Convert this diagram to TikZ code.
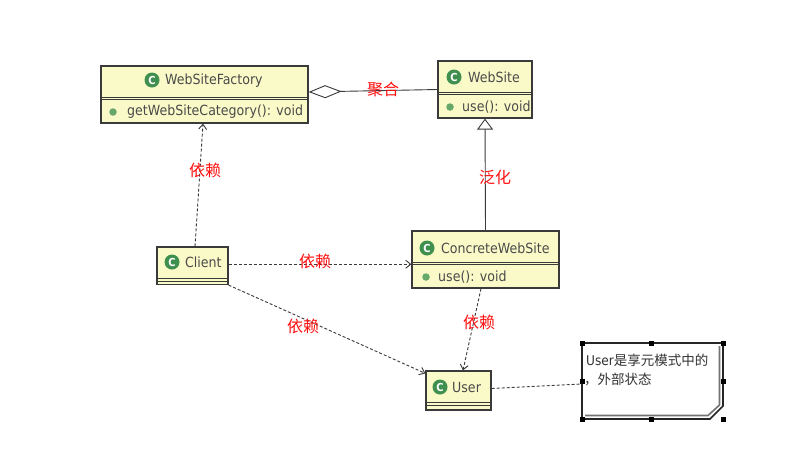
\documentclass[tikz,border=0pt]{standalone}
\usepackage{fontspec}
\setmainfont{DejaVu Sans Condensed}
\newfontfamily\cjk{Noto Sans CJK SC}
\usetikzlibrary{arrows.meta}

\definecolor{boxfill}{HTML}{FAFAC8}
\definecolor{boxline}{HTML}{3A3A3A}
\definecolor{nametext}{HTML}{4A4A4A}
\definecolor{icongreen}{HTML}{3F8F4F}
\definecolor{dotgreen}{HTML}{66A86A}
\definecolor{labelred}{HTML}{FF1010}

\tikzset{
  classbox/.style={draw=boxline, fill=boxfill, line width=1.2pt, inner sep=0pt, rectangle},
  divider/.style={draw=boxline, line width=0.9pt},
  cicon/.style={circle, fill=icongreen, minimum size=15pt, inner sep=0pt, text=white,
    font=\fontsize{11}{11}\selectfont\bfseries},
  mdot/.style={circle, fill=dotgreen, minimum size=7.5pt, inner sep=0pt},
  cname/.style={anchor=west, inner sep=0pt, text=nametext, font=\fontsize{14}{16}\selectfont},
  rel/.style={draw=boxline, line width=0.9pt},
  dep/.style={rel, dash pattern=on 3pt off 2pt, -{Straight Barb[length=5pt,width=8pt]}},
  redlabel/.style={text=labelred, inner sep=0pt, font=\cjk\fontsize{16}{16}\selectfont},
  handle/.style={fill=black, minimum size=5pt, inner sep=0pt, rectangle},
  notetext/.style={anchor=west, inner sep=0pt, text=black!80, font=\fontsize{13.5}{15}\selectfont},
}

\begin{document}
\begin{tikzpicture}[x=1pt,y=-1pt]
\useasboundingbox[fill=white] (0,0) rectangle (806,456);

% ---- WebSiteFactory
\node[classbox, minimum width=207pt, minimum height=57pt] (factory) at (204.5,94.5) {};
\draw[divider] (101,97) -- (308,97);
\draw[divider] (101,99.5) -- (308,99.5);
\node[cicon] (factoryicon) at (152,80) {C};
\node[cname] (factoryname) at (165,81) {WebSiteFactory};
\node[mdot] (factorydot) at (113,112) {};
\node[cname] (factoryop) at (127,112) {getWebSiteCategory(): void};

% ---- WebSite
\node[classbox, minimum width=94pt, minimum height=57pt] (website) at (485,89.5) {};
\draw[divider] (438,92) -- (532,92);
\draw[divider] (438,94.5) -- (532,94.5);
\node[cicon] (websiteicon) at (454,77) {C};
\node[cname] (websitename) at (468,77) {WebSite};
\node[mdot] (websitedot) at (450,107) {};
\node[cname] (websiteop) at (462,107) {use(): void};

% ---- ConcreteWebSite
\node[classbox, minimum width=147pt, minimum height=57pt] (concrete) at (485.5,259.5) {};
\draw[divider] (412,262) -- (559,262);
\draw[divider] (412,264.5) -- (559,264.5);
\node[cicon] (concreteicon) at (427,248) {C};
\node[cname] (concretename) at (441,248) {ConcreteWebSite};
\node[mdot] (concretedot) at (426,277) {};
\node[cname] (concreteop) at (438,277) {use(): void};

% ---- Client
\node[classbox, minimum width=71pt, minimum height=37.5pt] (client) at (192.5,265.75) {};
\draw[divider] (157,278) -- (228,278);
\draw[divider] (157,281) -- (228,281);
\node[cicon] (clienticon) at (172,262) {C};
\node[cname] (clientname) at (185,262) {Client};

% ---- User
\node[classbox, minimum width=65pt, minimum height=39pt] (user) at (458.5,390.5) {};
\draw[divider] (426,402.5) -- (491,402.5);
\draw[divider] (426,405.5) -- (491,405.5);
\node[cicon] (usericon) at (440,387) {C};
\node[cname] (username) at (452,387) {User};

% ---- note with folded corner and selection handles
\node[minimum width=141pt, minimum height=76pt, inner sep=0pt] (note) at (652.5,381) {};
\fill[white] (582,343) -- (723,343) -- (723,406) -- (710,419) -- (582,419) -- cycle;
\draw[line width=1.6pt, black!85] (582,343) -- (723,343) -- (723,406) -- (710,419) -- (582,419) -- cycle;
\draw[line width=1.6pt, black!55] (719.5,346) -- (719.5,405) -- (708,415.5) -- (585,415.5);
\node[notetext] (notel1) at (586,360) {User{\cjk 是享元模式中的}};
\node[notetext] (notel2) at (584,380) {\cjk ，外部状态};
\foreach \hx/\hy [count=\i] in {582/343, 651/343, 723/343, 582/381, 723/381, 582/419, 651/419, 723/419}
  \node[handle] (h\i) at (\hx,\hy) {};

% ---- connectors
\draw[rel, -{Diamond[open, length=33pt, width=13pt]}] (website.west) -- ([yshift=2.5pt]factory.east);
\node[redlabel] (aggrlabel) at (383,89) {聚合};

\draw[rel, -{Triangle[open, length=11pt, width=16pt]}] (concrete.north) -- (website.south);
\node[redlabel] (genlabel) at (495,177) {泛化};

\draw[dep] ([xshift=2.5pt]client.north) -- ([xshift=-1.5pt]factory.south);
\node[redlabel] (deplabel1) at (205,170) {依赖};

\draw[dep] ([yshift=1.5pt]client.east) -- ([yshift=1.5pt]client.east -| concrete.west);
\node[redlabel] (deplabel2) at (315,261) {依赖};

\draw[dep] (client.south east) -- ([yshift=-3pt]user.north west);
\node[redlabel] (deplabel3) at (303,326) {依赖};

\draw[dep] ([xshift=-4.5pt]concrete.south) -- ([xshift=4.5pt]user.north);
\node[redlabel] (deplabel4) at (479,322) {依赖};

\draw[rel, dash pattern=on 3pt off 2pt] ([yshift=2pt]user.east) -- ([yshift=-3pt]note.west);
\end{tikzpicture}
\end{document}
